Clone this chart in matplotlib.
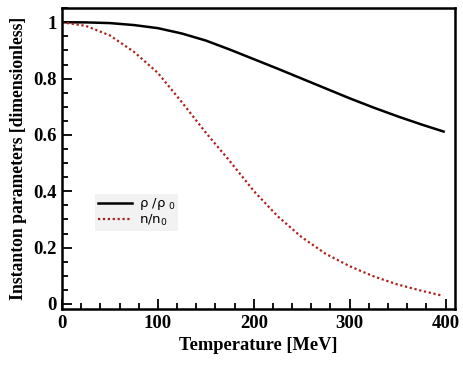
import numpy as np
import matplotlib
matplotlib.use("Agg")
import matplotlib.pyplot as plt
from matplotlib.ticker import MultipleLocator, FuncFormatter

# values
temp_rho = [0, 25, 50, 75, 100, 125, 150, 175, 200, 225, 250, 275, 300, 325, 350, 375, 398]
rho_ratio = [1.000, 0.9995, 0.997, 0.990, 0.979, 0.960, 0.935, 0.903, 0.869, 0.835, 0.800,
             0.765, 0.730, 0.697, 0.666, 0.637, 0.612]

temp_n = [0, 25, 50, 75, 100, 125, 150, 175, 200, 225, 250, 275, 300, 325, 350, 375, 396]
n_ratio = [1.000, 0.987, 0.953, 0.895, 0.820, 0.716, 0.608, 0.507, 0.401, 0.311, 0.237,
           0.178, 0.134, 0.098, 0.069, 0.047, 0.030]

serif = "Liberation Serif"

fig = plt.figure(figsize=(4.63, 3.71), dpi=100)
ax = fig.add_axes([0.134, 0.167, 0.849, 0.811])

ax.plot(temp_rho, rho_ratio, color="black", lw=1.8, label="ρ /ρ $_0$")
ax.plot(temp_n, n_ratio, color="#b0201a", lw=1.6, ls=(0, (1, 1.2)), label="n/n$_0$")

ax.set_xlim(0, 410)
ax.set_ylim(-0.018, 1.05)
ax.xaxis.set_major_locator(MultipleLocator(100))
ax.xaxis.set_minor_locator(MultipleLocator(20))
ax.yaxis.set_major_locator(MultipleLocator(0.2))
ax.yaxis.set_minor_locator(MultipleLocator(0.05))
ax.yaxis.set_major_formatter(FuncFormatter(lambda v, p: "%g" % round(v, 2)))

ax.tick_params(which="both", direction="in", top=False, right=False, width=1.3)
ax.tick_params(which="major", length=7, labelsize=13.5, pad=4)
ax.tick_params(which="minor", length=4)
for lab in ax.get_xticklabels() + ax.get_yticklabels():
    lab.set_fontfamily(serif)
    lab.set_fontweight("bold")
for s in ax.spines.values():
    s.set_linewidth(1.8)

ax.set_xlabel("Temperature [MeV]", fontfamily=serif, fontweight="bold", fontsize=13.2, labelpad=4)
ax.set_ylabel("Instanton parameters [dimensionless]", fontfamily=serif, fontweight="bold",
              fontsize=12.7, labelpad=4)

leg = ax.legend(loc="lower left", bbox_to_anchor=(0.084, 0.26), borderaxespad=0,
                fontsize=9.5, frameon=True, fancybox=False, handlelength=2.6,
                handletextpad=0.5, borderpad=0.2, labelspacing=0.05)
leg.get_frame().set_facecolor("#f2f2f2")
leg.get_frame().set_edgecolor("none")
leg.get_frame().set_alpha(1)

fig.savefig("out.png", dpi=100)
